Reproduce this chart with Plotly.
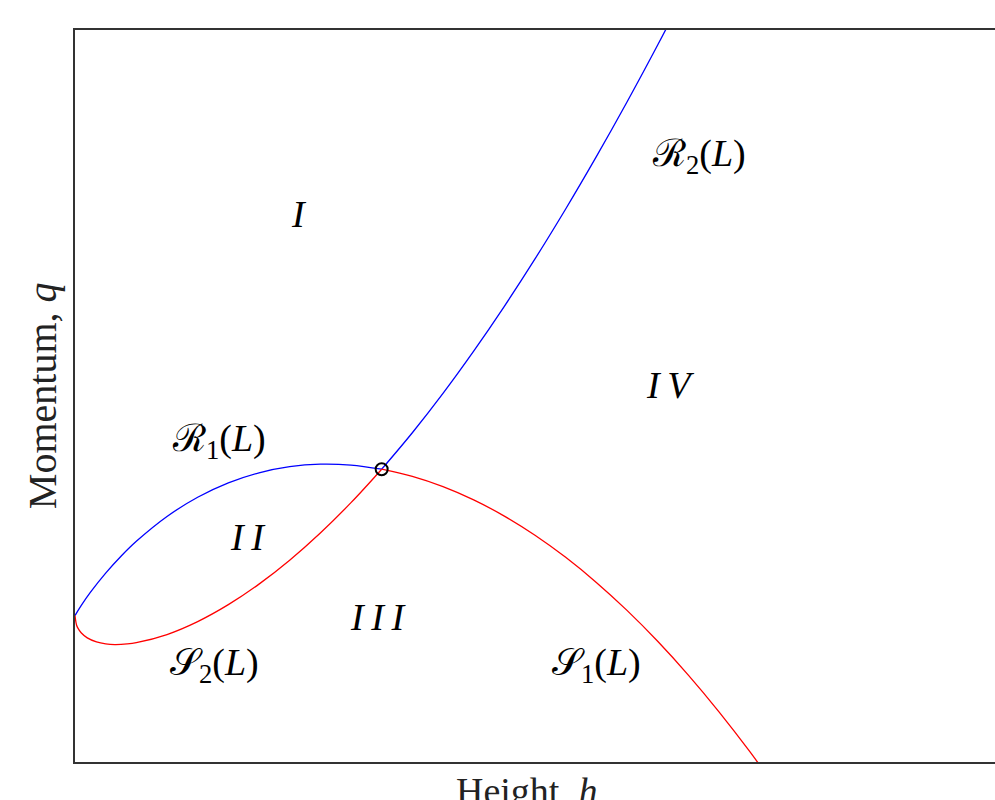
import plotly.graph_objects as go

# Curves (h = height, q = momentum)
r1_h = [0.0, 0.02, 0.05, 0.1, 0.15, 0.2, 0.3, 0.4, 0.5, 0.6, 0.7, 0.8, 0.9, 1.0]
r1_q = [0.0, 0.0677, 0.1579, 0.29, 0.4053, 0.5072, 0.677, 0.8084, 0.9069, 0.9757, 1.0176, 1.0347, 1.0283, 1.0]

r2_h = [1.0, 1.1, 1.2, 1.3, 1.4, 1.5, 1.6, 1.7, 1.8, 1.9, 2.0]
r2_q = [1.0, 1.2492, 1.5181, 1.8064, 2.1126, 2.4365, 2.7776, 3.135, 3.5084, 3.8975, 4.3016]

s1_h = [1.0, 1.1, 1.2, 1.3, 1.4, 1.5, 1.6, 1.7, 1.8, 1.9, 2.0, 2.1, 2.2, 2.3]
s1_q = [1.0, 0.9507, 0.8808, 0.7904, 0.6798, 0.5488, 0.3979, 0.2268, 0.0357, -0.1753, -0.4062, -0.6571, -0.9277, -1.2183]

s2_h = [0.0, 0.005, 0.01, 0.02, 0.04, 0.07, 0.1, 0.13, 0.17, 0.2, 0.3, 0.4, 0.5, 0.6, 0.7, 0.8, 0.9, 1.0]
s2_q = [0.0, -0.0643, -0.0877, -0.1175, -0.1524, -0.18, -0.1933, -0.1976, -0.1936, -0.185, -0.1294, -0.041, 0.0746, 0.215, 0.3785, 0.5642, 0.7715, 1.0]

left_state_h = [1.0]
left_state_q = [1.0]

region_labels = ["<i>I</i>", "<i>I\u2009I</i>", "<i>I\u2009I\u2009I</i>", "<i>I\u2009V</i>"]
region_h = [0.73, 0.565, 0.99, 1.94]
region_q = [2.745, 0.538, -0.008, 1.576]

curve_labels = ["ℛ<sub>1</sub>(<i>L</i>)", "ℛ<sub>2</sub>(<i>L</i>)",
                "𝒮<sub>1</sub>(<i>L</i>)", "𝒮<sub>2</sub>(<i>L</i>)"]
curve_h = [0.47, 2.035, 1.7, 0.456]
curve_q = [1.193, 3.139, -0.337, -0.337]

FONT = "Liberation Serif"

fig = go.Figure()
for hh, qq, col in [(r1_h, r1_q, "#0000ff"), (r2_h, r2_q, "#0000ff"),
                    (s1_h, s1_q, "#ff0000"), (s2_h, s2_q, "#ff0000")]:
    fig.add_trace(go.Scatter(x=hh, y=qq, mode="lines",
                             line=dict(color=col, width=1.3, shape="spline"),
                             hoverinfo="skip", showlegend=False))

fig.add_trace(go.Scatter(x=left_state_h, y=left_state_q, mode="markers",
                         marker=dict(symbol="circle-open", size=12,
                                     color="black", line=dict(width=2, color="black")),
                         showlegend=False))

for t, x, y in zip(region_labels + curve_labels, region_h + curve_h, region_q + curve_q):
    fig.add_annotation(x=x, y=y, text=t, showarrow=False,
                       font=dict(family=FONT, size=38, color="black"),
                       xanchor="center", yanchor="middle")

fig.add_annotation(xref="paper", yref="paper", x=0.491, y=-0.008,
                   text="Height, <i>h</i>", showarrow=False,
                   xanchor="center", yanchor="top",
                   font=dict(family=FONT, size=38, color="#222"))
fig.add_annotation(xref="paper", yref="paper", x=-0.036, y=0.501,
                   text="Momentum, <i>q</i>", showarrow=False, textangle=-90,
                   xanchor="center", yanchor="middle",
                   font=dict(family=FONT, size=40, color="#222"))

fig.update_layout(
    width=995, height=800,
    margin=dict(l=75, r=0, t=30, b=38, autoexpand=False),
    paper_bgcolor="white", plot_bgcolor="white",
    xaxis=dict(range=[0, 3], showline=True, mirror=True, linecolor="#333",
               linewidth=1.5, showgrid=False, zeroline=False,
               showticklabels=False, ticks=""),
    yaxis=dict(range=[-1, 4], showline=True, mirror=False, linecolor="#333",
               linewidth=1.5, showgrid=False, zeroline=False,
               showticklabels=False, ticks=""),
)

fig.write_html(
    "out.html",
    config={"displayModeBar": False},
    post_script="document.body.style.margin='0';"
                "document.documentElement.style.overflow='hidden';",
)
